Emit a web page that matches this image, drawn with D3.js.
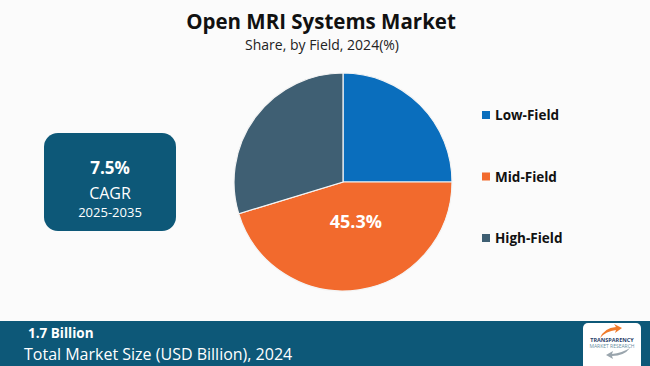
<!DOCTYPE html>
<html><head><meta charset="utf-8">
<script src="https://cdn.jsdelivr.net/npm/d3@7"></script>
<style>body{margin:0;background:#fbfbfb;}svg{display:block;}</style>
</head><body>
<script>
const categories = ["Low-Field", "Mid-Field", "High-Field"];
const shares = [25.0, 45.3, 29.7];
const colors = ["#0A6EBD", "#F26A2D", "#3F5F73"];
const title = "Open MRI Systems Market";
const subtitle = "Share, by Field, 2024(%)";
const cagrValue = "7.5%", cagrLabel = "CAGR", cagrPeriod = "2025-2035";
const marketValue = "1.7 Billion", marketLabel = "Total Market Size (USD Billion), 2024";

const W = 650, H = 366;
const svg = d3.select("body").append("svg").attr("width", W).attr("height", H);
svg.append("rect").attr("width", W).attr("height", H).attr("fill", "#fbfbfb");

const font = "'Open Sans', 'DejaVu Sans', sans-serif";
svg.append("text").attr("x", 321).attr("y", 29).attr("text-anchor", "middle")
  .attr("font-family", font).attr("font-weight", 700).attr("font-size", 20.5).attr("fill", "#111").text(title);
svg.append("text").attr("x", 322).attr("y", 50).attr("text-anchor", "middle")
  .attr("font-family", font).attr("font-size", 14).attr("fill", "#222").text(subtitle);

// Pie
const data = categories.map((c, i) => ({cat: c, val: shares[i], color: colors[i]}));
const pie = d3.pie().value(d => d.val).sort(null);
const arc = d3.arc().innerRadius(0).outerRadius(109);
const g = svg.append("g").attr("transform", "translate(343,182)");
const arcs = pie(data);
g.selectAll("path").data(arcs).join("path").attr("d", arc)
  .attr("fill", d => d.data.color).attr("stroke", "#f4f4f4").attr("stroke-width", 1.2);
const mid = arcs[1];
const lArc = d3.arc().innerRadius(0).outerRadius(80);
const c = lArc.centroid(mid);
g.append("text").attr("x", c[0] + 7).attr("y", c[1] + 6.5).attr("text-anchor", "middle")
  .attr("font-family", font).attr("font-weight", 700).attr("font-size", 18).attr("fill", "#fff")
  .text(mid.data.val.toFixed(1) + "%");

// Legend
const ly = d3.scalePoint().domain(categories).range([115, 238]);
const lg = svg.append("g");
categories.forEach((cat, i) => {
  lg.append("rect").attr("x", 482).attr("y", ly(cat) - 4).attr("width", 8).attr("height", 8).attr("fill", colors[i]);
  lg.append("text").attr("x", 495).attr("y", ly(cat) + 5).attr("font-family", font).attr("font-weight", 700)
    .attr("font-size", 13.5).attr("fill", "#111").text(cat);
});

// CAGR box
svg.append("rect").attr("x", 44).attr("y", 133).attr("width", 132).attr("height", 98).attr("rx", 14)
  .attr("fill", "#0D5878");
svg.append("text").attr("x", 110).attr("y", 174).attr("text-anchor", "middle").attr("font-family", font)
  .attr("font-weight", 700).attr("font-size", 17).attr("fill", "#fff").text(cagrValue);
svg.append("text").attr("x", 110).attr("y", 199).attr("text-anchor", "middle").attr("font-family", font)
  .attr("font-size", 16).attr("fill", "#fff").text(cagrLabel);
svg.append("text").attr("x", 110).attr("y", 217).attr("text-anchor", "middle").attr("font-family", font)
  .attr("font-size", 13).attr("fill", "#fff").text(cagrPeriod);

// Bottom banner
svg.append("rect").attr("x", 0).attr("y", 321).attr("width", W).attr("height", 45).attr("fill", "#0D5878");
svg.append("text").attr("x", 28).attr("y", 338).attr("font-family", font).attr("font-weight", 700)
  .attr("font-size", 13.5).attr("fill", "#fff").text(marketValue);
svg.append("text").attr("x", 24).attr("y", 360).attr("font-family", font)
  .attr("font-size", 16).attr("fill", "#fff").text(marketLabel);

// Logo
const logo = svg.append("g");
logo.append("rect").attr("x", 583).attr("y", 323).attr("width", 58).attr("height", 48).attr("rx", 5).attr("fill", "#fff");
logo.append("path").attr("d", "M600,338 Q604,328 616,327 L614,324 L622,328 L615,333 L616,330 Q606,331 600,338Z").attr("fill", "#F07A2A");
logo.append("path").attr("d", "M630,348 Q624,356 612,356 L613,359 L606,355 L613,351 L612,354 Q622,353 630,348Z").attr("fill", "#9aa5ad");
logo.append("text").attr("x", 612).attr("y", 342).attr("text-anchor", "middle").attr("font-family", font)
  .attr("font-weight", 700).attr("font-size", 5.5).attr("fill", "#2a3f6a").text("TRANSPARENCY");
logo.append("text").attr("x", 612).attr("y", 348).attr("text-anchor", "middle").attr("font-family", font)
  .attr("font-size", 5).attr("fill", "#6a8f9f").text("MARKET RESEARCH");
</script>
</body></html>
